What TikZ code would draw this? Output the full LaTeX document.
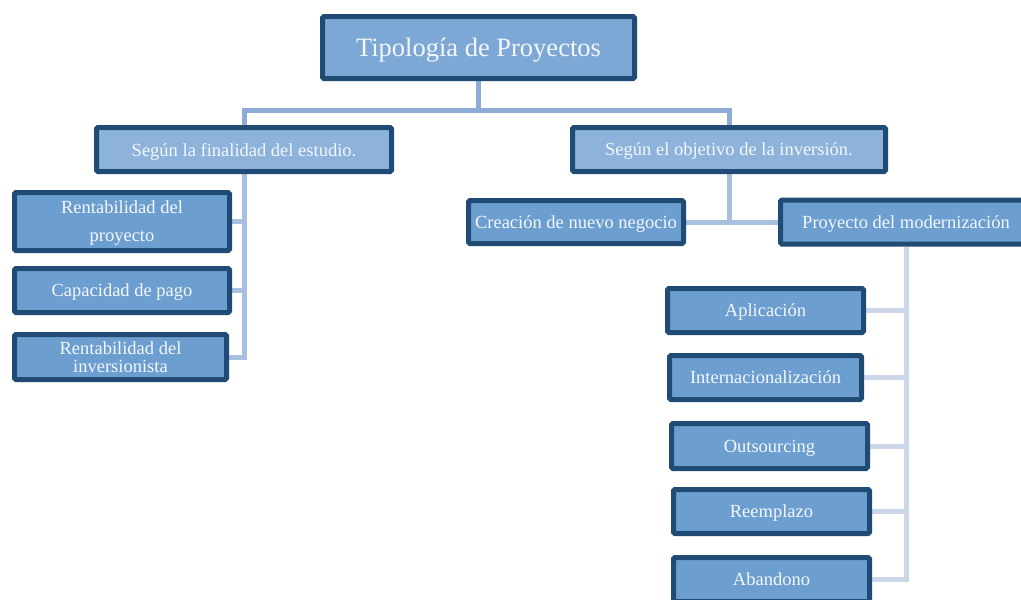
\documentclass[tikz,border=0pt]{standalone}
\usepackage{fontspec}
\setmainfont{Liberation Serif}
\usetikzlibrary{backgrounds}
\definecolor{boxedge}{HTML}{1F4B75}
\definecolor{topfill}{HTML}{7DA8D5}
\definecolor{midfill}{HTML}{8DB3DB}
\definecolor{leaffill}{HTML}{6C9FD0}
\definecolor{linkA}{HTML}{8EACD6}
\definecolor{linkB}{HTML}{A9BFE0}
\definecolor{linkC}{HTML}{CBD7E9}
\definecolor{txt}{HTML}{F3F6FB}
\tikzset{
  box/.style={draw=boxedge, line width=5pt, rounded corners=1.5pt, inner sep=0pt,
    text=txt, align=center, text depth=-5pt, font=\fontsize{18.5}{21}\selectfont},
  topbox/.style={box, fill=topfill, font=\fontsize{26.5}{30}\selectfont},
  midbox/.style={box, fill=midfill},
  leafbox/.style={box, fill=leaffill},
  link/.style={line width=5pt, line join=miter},
}
\begin{document}
\begin{tikzpicture}[x=1pt, y=-1pt]
\useasboundingbox (0,0) rectangle (1021,600);
\begin{scope}
\clip (0,0) rectangle (1021,600);
% root
\node[topbox, minimum width=312pt, minimum height=62pt] (title) at (478.5,47.5) {Tipología de Proyectos};
% two classification criteria
\node[midbox, minimum width=295pt, minimum height=44pt] (fin) at (244,149.5) {Según la finalidad del estudio.};
\node[midbox, minimum width=313pt, minimum height=44pt] (obj) at (729,149.5) {Según el objetivo de la inversión.};
% by purpose of the study
\node[leafbox, minimum width=215pt, minimum height=58pt, font=\fontsize{18.5}{28}\selectfont] (rp) at (122,221.5) {Rentabilidad del\\proyecto};
\node[leafbox, minimum width=215pt, minimum height=44pt] (cp) at (122,290.5) {Capacidad de pago};
\node[leafbox, minimum width=212pt, minimum height=45pt, font=\fontsize{18.5}{18.5}\selectfont] (ri) at (120.5,357) {Rentabilidad del\\inversionista};
% by investment objective
\node[leafbox, minimum width=215pt, minimum height=43pt] (cn) at (576,222) {Creación de nuevo negocio};
\node[leafbox, minimum width=251pt, minimum height=44pt] (pm) at (906,222) {Proyecto del modernización};
% kinds of modernization
\node[leafbox, minimum width=196pt, minimum height=44pt] (ap) at (765.5,310.5) {Aplicación};
\node[leafbox, minimum width=192pt, minimum height=44pt] (in) at (765.5,377.5) {Internacionalización};
\node[leafbox, minimum width=196pt, minimum height=45pt] (ou) at (769.5,446) {Outsourcing};
\node[leafbox, minimum width=196pt, minimum height=44pt] (re) at (771.5,511.5) {Reemplazo};
\node[leafbox, minimum width=196pt, minimum height=44pt] (ab) at (771.5,579.5) {Abandono};
\end{scope}
\coordinate (bus) at (0,110);
\begin{scope}[on background layer]
  \draw[link, linkA] (title.south) -- (title.south |- bus) -| (fin.north);
  \draw[link, linkA] (title.south |- bus) -| (obj.north);
  \draw[link, linkB] (fin.south) |- (rp.east);
  \draw[link, linkB] (fin.south) |- (cp.east);
  \draw[link, linkB] (fin.south) |- (ri.east);
  \draw[link, linkB] (obj.south) |- (cn.east);
  \draw[link, linkB] (obj.south) |- (pm.west);
  \draw[link, linkC] (pm.south) |- (ap.east);
  \draw[link, linkC] (pm.south) |- (in.east);
  \draw[link, linkC] (pm.south) |- (ou.east);
  \draw[link, linkC] (pm.south) |- (re.east);
  \draw[link, linkC] (pm.south) |- (ab.east);
\end{scope}
\end{tikzpicture}
\end{document}
